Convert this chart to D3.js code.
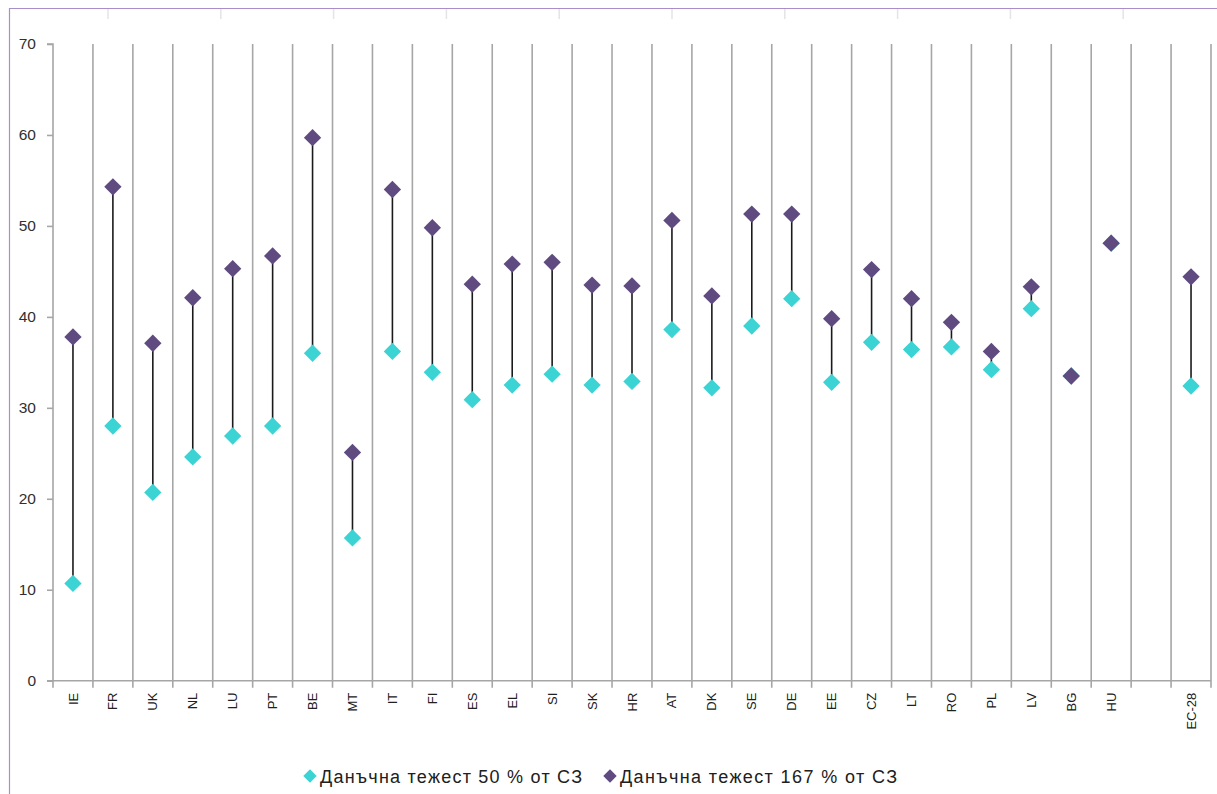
<!DOCTYPE html>
<html><head><meta charset="utf-8">
<script src="https://cdn.jsdelivr.net/npm/d3@7"></script>
<style>
html,body{margin:0;padding:0;background:#fff;}
svg{display:block;font-family:"Liberation Sans",Arial,sans-serif;}
</style></head>
<body>
<svg id="chart" width="1217" height="794"></svg>
<script>
const categories = ["IE","FR","UK","NL","LU","PT","BE","MT","IT","FI","ES","EL","SI","SK","HR","AT","DK","SE","DE","EE","CZ","LT","RO","PL","LV","BG","HU","","EC-28"];
const low50  = [10.7,28.0,20.7,24.6,26.9,28.0,36.0,15.7,36.2,33.9,30.9,32.5,33.7,32.5,32.9,38.6,32.2,39.0,42.0,32.8,37.2,36.4,36.7,34.2,40.9,33.5,48.1,null,32.4];
const high167= [37.8,54.3,37.1,42.1,45.3,46.7,59.7,25.1,54.0,49.8,43.6,45.8,46.0,43.5,43.4,50.6,42.3,51.3,51.3,39.8,45.2,42.0,39.4,36.2,43.3,33.5,48.1,null,44.4];
const yTicks = [0,10,20,30,40,50,60,70];
const legendLabels = ["Данъчна тежест 50 % от СЗ","Данъчна тежест 167 % от СЗ"];
const colors = ["#3bd3d3","#5f4b80"];

const svg = d3.select("#chart");
const pLeft = 53, pRight = 1211, pTop = 44, pBottom = 680.7;

// border frame + faint cell marks
svg.append("line").attr("x1",9).attr("x2",1217).attr("y1",8.5).attr("y2",8.5).attr("stroke","#a88fcc").attr("stroke-width",1.2);
svg.append("line").attr("x1",9.5).attr("x2",9.5).attr("y1",8).attr("y2",794).attr("stroke","#a88fcc").attr("stroke-width",1.2);
const cellMarks = d3.range(10);
svg.append("g").selectAll("line").data(cellMarks).join("line")
  .attr("x1",d=>108+d*112.8).attr("x2",d=>108+d*112.8).attr("y1",9).attr("y2",19)
  .attr("stroke","#e4e4e4").attr("stroke-width",1.5);

const x = d3.scaleBand().domain(d3.range(categories.length)).range([pLeft,pRight]).paddingInner(0).paddingOuter(0);
const y = d3.scaleLinear().domain([0,70]).range([pBottom,pTop]);

// vertical gridlines at category boundaries
const bounds = d3.range(1, categories.length+1);
svg.append("g").selectAll("line").data(bounds).join("line")
  .attr("x1",i=>pLeft + i*x.bandwidth()).attr("x2",i=>pLeft + i*x.bandwidth())
  .attr("y1",pTop).attr("y2",pBottom+7)
  .attr("stroke","#a6a6a6").attr("stroke-width",1.6);

// y axis
const yAxis = svg.append("g").attr("transform",`translate(${pLeft},0)`)
  .call(d3.axisLeft(y).tickValues(yTicks).tickSize(6).tickPadding(10).tickFormat(d3.format("d")));
yAxis.select(".domain").attr("stroke","#a6a6a6").attr("stroke-width",1.6).attr("d",`M-6,${pTop}H0V${pBottom}`);
yAxis.selectAll(".tick line").attr("stroke","#a6a6a6").attr("stroke-width",1.6);
yAxis.selectAll(".tick text").attr("fill","#303030").style("font-size","15.5px").attr("dx","-1");

// x axis
const xAxis = svg.append("g").attr("transform",`translate(0,${pBottom})`)
  .call(d3.axisBottom(x).tickSize(0).tickFormat(i=>categories[i]));
xAxis.select(".domain").attr("stroke","#a6a6a6").attr("stroke-width",1.6).attr("d",`M${pLeft-6},0H${pRight}`);
svg.append("line").attr("x1",pLeft).attr("x2",pLeft).attr("y1",pBottom).attr("y2",pBottom+7).attr("stroke","#a6a6a6").attr("stroke-width",1.6);
xAxis.selectAll(".tick text")
  .attr("transform","rotate(-90)")
  .attr("x",-12).attr("y",0).attr("dy","0.35em")
  .attr("text-anchor","end")
  .attr("fill","#202020").style("font-size","13px");

// connectors
const rows = categories.map((c,i)=>({i, lo:low50[i], hi:high167[i]})).filter(d=>d.lo!=null && d.hi!=null);
svg.append("g").selectAll("line").data(rows.filter(d=>d.hi!==d.lo)).join("line")
  .attr("x1",d=>x(d.i)+x.bandwidth()/2).attr("x2",d=>x(d.i)+x.bandwidth()/2)
  .attr("y1",d=>y(d.lo)).attr("y2",d=>y(d.hi))
  .attr("stroke","#1a1a1a").attr("stroke-width",1.6);

const diamond = d3.symbol().type(d3.symbolSquare).size(150);
[low50, high167].forEach((series,si)=>{
  svg.append("g").selectAll("path").data(rows).join("path")
    .attr("d",diamond)
    .attr("transform",d=>`translate(${x(d.i)+x.bandwidth()/2},${y(si===0?d.lo:d.hi)}) rotate(45)`)
    .attr("fill",colors[si]);
});

// legend
const legX = [310, 610];
const legLen = [262, 277];
const lg = svg.append("g");
legendLabels.forEach((t,i)=>{
  lg.append("path").attr("d",d3.symbol().type(d3.symbolSquare).size(90))
    .attr("transform",`translate(${legX[i]},776) rotate(45)`).attr("fill",colors[i]);
  lg.append("text").attr("x",legX[i]+10).attr("y",783)
    .attr("fill","#202020").style("font-size","18px")
    .attr("textLength",legLen[i]).attr("lengthAdjust","spacing").text(t);
});
</script>
</body></html>
